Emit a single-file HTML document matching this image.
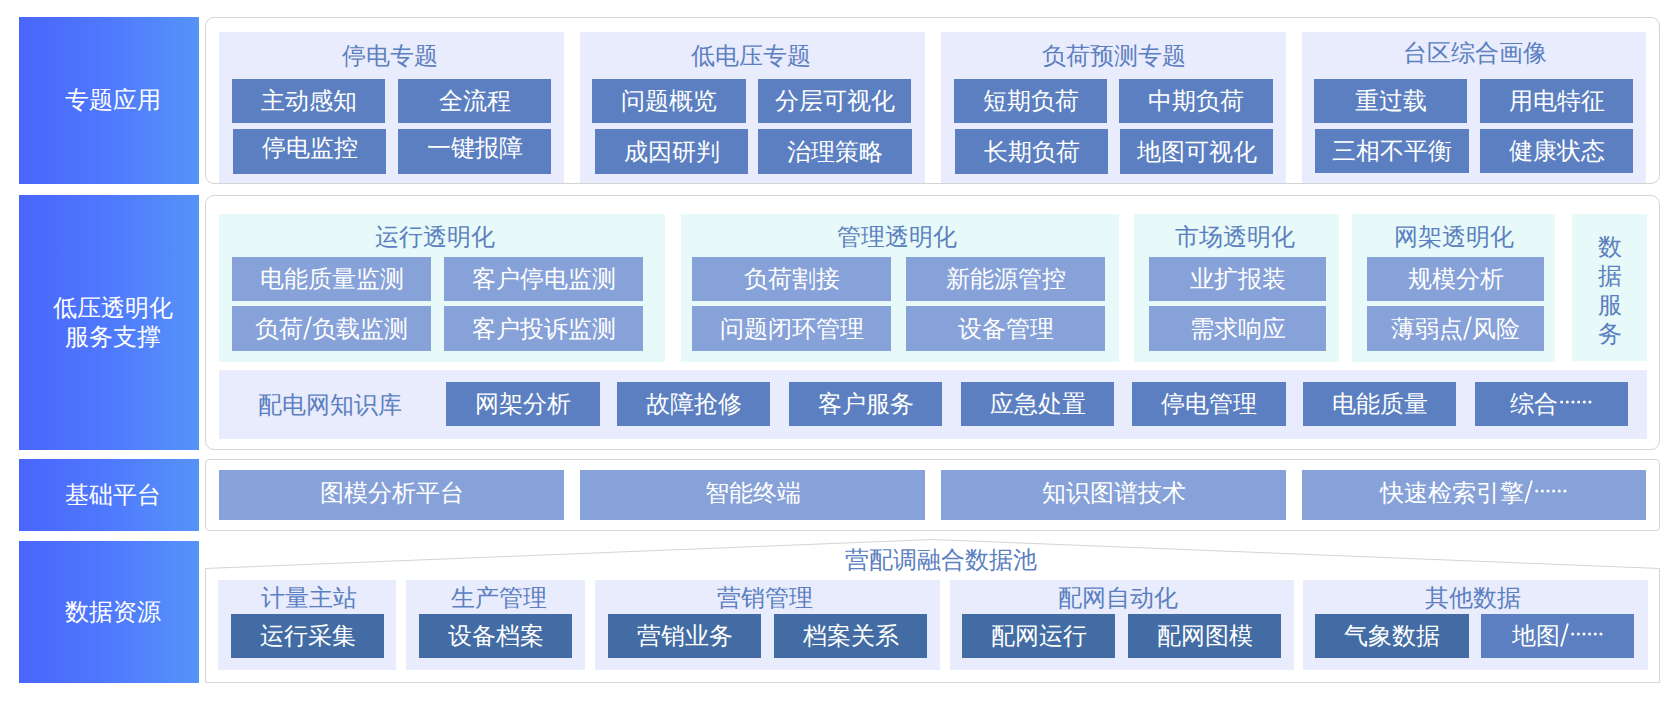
<!DOCTYPE html>
<html><head><meta charset="utf-8"><style>
html,body{margin:0;padding:0;background:#fff;width:1679px;height:707px;overflow:hidden}
body{position:relative;font-family:"Liberation Sans",sans-serif;font-size:24px}
body>div,body>svg{position:absolute;box-sizing:border-box}
.b{display:flex;align-items:center;justify-content:center;white-space:nowrap;line-height:40px}
.t{text-align:center;line-height:40px;white-space:nowrap}
.lb{display:flex;align-items:center;justify-content:center;text-align:center;color:#fff;line-height:29px;background:linear-gradient(90deg,#4a65fc 0%,#4f79fd 50%,#5693f8 100%);padding-left:8px;padding-bottom:2px}
.sl{display:inline-block;vertical-align:middle;position:relative;top:-1px}
.dt{display:inline-block;vertical-align:middle;position:relative;top:-2px;margin-left:2px}
</style></head><body>
<div class="lb" style="left:19px;top:17px;width:180px;height:167px">专题应用</div>
<div class="lb" style="left:19px;top:195px;width:180px;height:255px">低压透明化<br>服务支撑</div>
<div class="lb" style="left:19px;top:459px;width:180px;height:72px">基础平台</div>
<div class="lb" style="left:19px;top:541px;width:180px;height:142px">数据资源</div>
<div style="left:205px;top:17px;width:1455px;height:167px;border:1px solid #d4d4d4;border-radius:9px;background:#fff"></div>
<div style="left:205px;top:195px;width:1455px;height:255px;border:1px solid #d4d4d4;border-radius:9px;background:#fff"></div>
<div style="left:205px;top:459px;width:1455px;height:72px;border:1px solid #d4d4d4;border-radius:4px;background:#fff"></div>
<svg style="left:0;top:0" width="1679" height="707"><polygon points="205.5,568.5 933,539.5 1659.5,568.5 1659.5,682.5 205.5,682.5" fill="#fff" stroke="#d4d4d4" stroke-width="1"/></svg>
<div style="left:219px;top:32px;width:345px;height:151px;background:#e9ecfc;"></div>
<div class="t" style="left:190.0px;top:36px;width:400px;color:#5b7fc0">停电专题</div>
<div class="b" style="left:232px;top:79px;width:153px;height:44px;background:#5b7fc0;color:#fff;">主动感知</div>
<div class="b" style="left:398px;top:79px;width:153px;height:44px;background:#5b7fc0;color:#fff;">全流程</div>
<div class="b" style="left:233px;top:129px;width:153px;height:45px;background:#5b7fc0;color:#fff;padding-bottom:8px;">停电监控</div>
<div class="b" style="left:398px;top:129px;width:153px;height:45px;background:#5b7fc0;color:#fff;padding-bottom:8px;">一键报障</div>
<div style="left:580px;top:32px;width:345px;height:151px;background:#e9ecfc;"></div>
<div class="t" style="left:551.0px;top:36px;width:400px;color:#5b7fc0">低电压专题</div>
<div class="b" style="left:592px;top:79px;width:154px;height:44px;background:#5b7fc0;color:#fff;">问题概览</div>
<div class="b" style="left:758px;top:79px;width:153px;height:44px;background:#5b7fc0;color:#fff;">分层可视化</div>
<div class="b" style="left:595px;top:129px;width:153px;height:45px;background:#5b7fc0;color:#fff;">成因研判</div>
<div class="b" style="left:758px;top:129px;width:154px;height:45px;background:#5b7fc0;color:#fff;">治理策略</div>
<div style="left:941px;top:32px;width:345px;height:151px;background:#e9ecfc;"></div>
<div class="t" style="left:913.5px;top:36px;width:400px;color:#5b7fc0">负荷预测专题</div>
<div class="b" style="left:954px;top:79px;width:153px;height:44px;background:#5b7fc0;color:#fff;">短期负荷</div>
<div class="b" style="left:1119px;top:79px;width:154px;height:44px;background:#5b7fc0;color:#fff;">中期负荷</div>
<div class="b" style="left:955px;top:129px;width:153px;height:45px;background:#5b7fc0;color:#fff;">长期负荷</div>
<div class="b" style="left:1120px;top:129px;width:153px;height:45px;background:#5b7fc0;color:#fff;">地图可视化</div>
<div style="left:1302px;top:32px;width:344px;height:151px;background:#e9ecfc;"></div>
<div class="t" style="left:1274.5px;top:33px;width:400px;color:#5b7fc0">台区综合画像</div>
<div class="b" style="left:1314px;top:79px;width:153px;height:44px;background:#5b7fc0;color:#fff;">重过载</div>
<div class="b" style="left:1480px;top:79px;width:153px;height:44px;background:#5b7fc0;color:#fff;">用电特征</div>
<div class="b" style="left:1315px;top:129px;width:154px;height:44px;background:#5b7fc0;color:#fff;">三相不平衡</div>
<div class="b" style="left:1480px;top:129px;width:153px;height:44px;background:#5b7fc0;color:#fff;">健康状态</div>
<div style="left:219px;top:214px;width:446px;height:148px;background:#e7f9f8;"></div>
<div class="t" style="left:235.0px;top:217px;width:400px;color:#5b7fc0">运行透明化</div>
<div class="b" style="left:232px;top:257px;width:199px;height:44px;background:#87a2d8;color:#fff;">电能质量监测</div>
<div class="b" style="left:444px;top:257px;width:199px;height:44px;background:#87a2d8;color:#fff;">客户停电监测</div>
<div class="b" style="left:232px;top:306px;width:199px;height:45px;background:#87a2d8;color:#fff;">负荷<svg class="sl" width="9" height="24" viewBox="0 0 9 24"><line x1="1.1" y1="23.6" x2="7.9" y2="0.4" stroke="currentColor" stroke-width="1.9"/></svg>负载监测</div>
<div class="b" style="left:444px;top:306px;width:199px;height:45px;background:#87a2d8;color:#fff;">客户投诉监测</div>
<div style="left:681px;top:214px;width:438px;height:148px;background:#e7f9f8;"></div>
<div class="t" style="left:696.5px;top:217px;width:400px;color:#5b7fc0">管理透明化</div>
<div class="b" style="left:692px;top:257px;width:199px;height:44px;background:#87a2d8;color:#fff;">负荷割接</div>
<div class="b" style="left:906px;top:257px;width:199px;height:44px;background:#87a2d8;color:#fff;">新能源管控</div>
<div class="b" style="left:692px;top:306px;width:199px;height:45px;background:#87a2d8;color:#fff;">问题闭环管理</div>
<div class="b" style="left:906px;top:306px;width:199px;height:45px;background:#87a2d8;color:#fff;">设备管理</div>
<div style="left:1134px;top:214px;width:205px;height:148px;background:#e7f9f8;"></div>
<div class="t" style="left:1034.5px;top:217px;width:400px;color:#5b7fc0">市场透明化</div>
<div class="b" style="left:1149px;top:257px;width:177px;height:44px;background:#87a2d8;color:#fff;">业扩报装</div>
<div class="b" style="left:1149px;top:306px;width:177px;height:45px;background:#87a2d8;color:#fff;">需求响应</div>
<div style="left:1352px;top:214px;width:203px;height:148px;background:#e7f9f8;"></div>
<div class="t" style="left:1253.5px;top:217px;width:400px;color:#5b7fc0">网架透明化</div>
<div class="b" style="left:1367px;top:257px;width:177px;height:44px;background:#87a2d8;color:#fff;">规模分析</div>
<div class="b" style="left:1367px;top:306px;width:177px;height:45px;background:#87a2d8;color:#fff;">薄弱点<svg class="sl" width="9" height="24" viewBox="0 0 9 24"><line x1="1.1" y1="23.6" x2="7.9" y2="0.4" stroke="currentColor" stroke-width="1.9"/></svg>风险</div>
<div style="left:1572px;top:214px;width:75px;height:147px;background:#e7f9f8;"></div>
<div class="t" style="left:1572px;top:232px;width:75px;line-height:29px;color:#5b7fc0">数<br>据<br>服<br>务</div>
<div style="left:219px;top:370px;width:1428px;height:69px;background:#e9ecfc;"></div>
<div class="t" style="left:130.0px;top:385px;width:400px;color:#5b7fc0">配电网知识库</div>
<div class="b" style="left:446px;top:382px;width:154px;height:44px;background:#5b7fc0;color:#fff;">网架分析</div>
<div class="b" style="left:617px;top:382px;width:153px;height:44px;background:#5b7fc0;color:#fff;">故障抢修</div>
<div class="b" style="left:789px;top:382px;width:153px;height:44px;background:#5b7fc0;color:#fff;">客户服务</div>
<div class="b" style="left:961px;top:382px;width:153px;height:44px;background:#5b7fc0;color:#fff;">应急处置</div>
<div class="b" style="left:1132px;top:382px;width:154px;height:44px;background:#5b7fc0;color:#fff;">停电管理</div>
<div class="b" style="left:1303px;top:382px;width:153px;height:44px;background:#5b7fc0;color:#fff;">电能质量</div>
<div class="b" style="left:1475px;top:382px;width:153px;height:44px;background:#5b7fc0;color:#fff;">综合<svg class="dt" width="33" height="4" viewBox="0 0 33 4"><circle cx="1.70" cy="2" r="1.55" fill="currentColor"/><circle cx="7.35" cy="2" r="1.55" fill="currentColor"/><circle cx="13.00" cy="2" r="1.55" fill="currentColor"/><circle cx="18.65" cy="2" r="1.55" fill="currentColor"/><circle cx="24.30" cy="2" r="1.55" fill="currentColor"/><circle cx="29.95" cy="2" r="1.55" fill="currentColor"/></svg></div>
<div class="b" style="left:219px;top:470px;width:345px;height:50px;background:#87a2d8;color:#fff;padding-bottom:4px;">图模分析平台</div>
<div class="b" style="left:580px;top:470px;width:345px;height:50px;background:#87a2d8;color:#fff;padding-bottom:4px;">智能终端</div>
<div class="b" style="left:941px;top:470px;width:345px;height:50px;background:#87a2d8;color:#fff;padding-bottom:4px;">知识图谱技术</div>
<div class="b" style="left:1302px;top:470px;width:344px;height:50px;background:#87a2d8;color:#fff;padding-bottom:4px;">快速检索引擎<svg class="sl" width="9" height="24" viewBox="0 0 9 24"><line x1="1.1" y1="23.6" x2="7.9" y2="0.4" stroke="currentColor" stroke-width="1.9"/></svg><svg class="dt" width="33" height="4" viewBox="0 0 33 4"><circle cx="1.70" cy="2" r="1.55" fill="currentColor"/><circle cx="7.35" cy="2" r="1.55" fill="currentColor"/><circle cx="13.00" cy="2" r="1.55" fill="currentColor"/><circle cx="18.65" cy="2" r="1.55" fill="currentColor"/><circle cx="24.30" cy="2" r="1.55" fill="currentColor"/><circle cx="29.95" cy="2" r="1.55" fill="currentColor"/></svg></div>
<div class="t" style="left:741.0px;top:539.5px;width:400px;color:#5b7fc0">营配调融合数据池</div>
<div style="left:218px;top:580px;width:178px;height:90px;background:#e9ecfc;"></div>
<div class="t" style="left:108.60000000000002px;top:578px;width:400px;color:#5b7fc0">计量主站</div>
<div class="b" style="left:231px;top:614px;width:153px;height:44px;background:#426ca3;color:#fff;">运行采集</div>
<div style="left:406px;top:580px;width:179px;height:90px;background:#e9ecfc;"></div>
<div class="t" style="left:299.0px;top:578px;width:400px;color:#5b7fc0">生产管理</div>
<div class="b" style="left:419px;top:614px;width:153px;height:44px;background:#426ca3;color:#fff;">设备档案</div>
<div style="left:595px;top:580px;width:345px;height:90px;background:#e9ecfc;"></div>
<div class="t" style="left:564.7px;top:578px;width:400px;color:#5b7fc0">营销管理</div>
<div class="b" style="left:608px;top:614px;width:153px;height:44px;background:#426ca3;color:#fff;">营销业务</div>
<div class="b" style="left:774px;top:614px;width:153px;height:44px;background:#426ca3;color:#fff;">档案关系</div>
<div style="left:950px;top:580px;width:344px;height:90px;background:#e9ecfc;"></div>
<div class="t" style="left:918.4000000000001px;top:578px;width:400px;color:#5b7fc0">配网自动化</div>
<div class="b" style="left:962px;top:614px;width:153px;height:44px;background:#426ca3;color:#fff;">配网运行</div>
<div class="b" style="left:1128px;top:614px;width:153px;height:44px;background:#426ca3;color:#fff;">配网图模</div>
<div style="left:1303px;top:580px;width:345px;height:90px;background:#e9ecfc;"></div>
<div class="t" style="left:1273.4px;top:578px;width:400px;color:#5b7fc0">其他数据</div>
<div class="b" style="left:1315px;top:614px;width:154px;height:44px;background:#426ca3;color:#fff;">气象数据</div>
<div class="b" style="left:1481px;top:614px;width:153px;height:44px;background:#5b7fc0;color:#fff;">地图<svg class="sl" width="9" height="24" viewBox="0 0 9 24"><line x1="1.1" y1="23.6" x2="7.9" y2="0.4" stroke="currentColor" stroke-width="1.9"/></svg><svg class="dt" width="33" height="4" viewBox="0 0 33 4"><circle cx="1.70" cy="2" r="1.55" fill="currentColor"/><circle cx="7.35" cy="2" r="1.55" fill="currentColor"/><circle cx="13.00" cy="2" r="1.55" fill="currentColor"/><circle cx="18.65" cy="2" r="1.55" fill="currentColor"/><circle cx="24.30" cy="2" r="1.55" fill="currentColor"/><circle cx="29.95" cy="2" r="1.55" fill="currentColor"/></svg></div>
</body></html>
